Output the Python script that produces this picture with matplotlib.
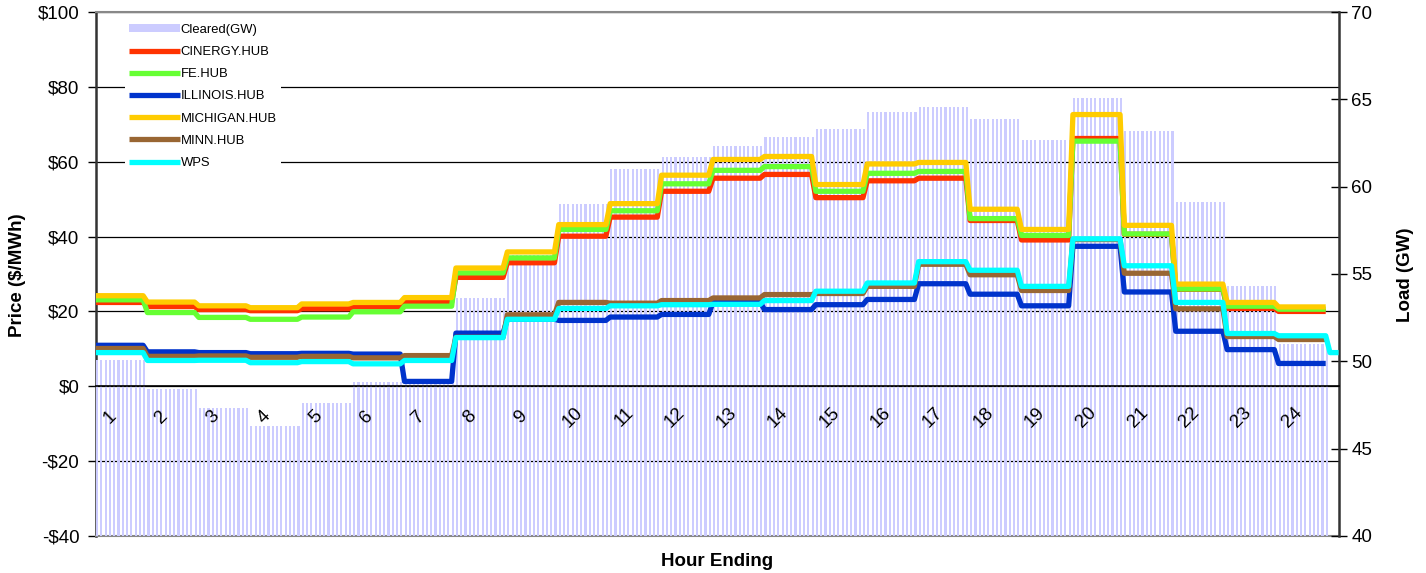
import numpy as np
import matplotlib
matplotlib.use("Agg")
import matplotlib.pyplot as plt
from matplotlib.patches import Patch

plt.rcParams['font.family'] = ['Liberation Sans', 'DejaVu Sans']

hours = list(range(1, 25))
per_hour = 12  # 5-minute intervals

load_gw = [50.1, 48.4, 47.3, 46.3, 47.6, 48.8, 48.85, 53.6, 56.1, 59.0, 61.0, 61.7,
           62.3, 62.85, 63.3, 64.25, 64.55, 63.9, 62.7, 65.05, 63.2, 59.15, 54.3, 51.0]

cinergy = [22.4, 21.3, 20.5, 20.2, 20.7, 21.2, 22.5, 29.1, 33.0, 40.1, 45.2, 52.1,
           55.6, 56.6, 50.4, 54.9, 55.6, 44.3, 39.1, 66.2, 40.6, 25.9, 20.8, 20.0]
fe_hub = [23.1, 19.7, 18.4, 17.9, 18.5, 19.9, 21.4, 30.3, 34.3, 41.9, 46.9, 54.1,
          57.7, 58.7, 52.1, 56.9, 57.4, 44.8, 40.3, 65.5, 40.7, 26.0, 21.4, 20.6]
illinois = [10.95, 9.2, 9.0, 8.7, 8.8, 8.6, 1.3, 14.2, 17.9, 17.6, 18.5, 19.2,
            22.5, 20.5, 21.8, 23.2, 27.4, 24.6, 21.5, 37.4, 25.2, 14.7, 9.8, 6.1]
michigan = [24.2, 22.5, 21.5, 21.0, 22.0, 22.4, 23.7, 31.6, 35.9, 43.2, 48.8, 56.4,
            60.6, 61.4, 53.9, 59.4, 59.8, 47.3, 41.9, 72.6, 43.0, 27.3, 22.4, 21.2]
minn = [10.1, 8.0, 8.1, 7.75, 8.0, 7.6, 8.2, 13.1, 19.1, 22.4, 22.2, 22.9,
        23.6, 24.5, 24.8, 26.7, 32.6, 29.8, 25.6, 39.2, 30.2, 20.7, 13.3, 12.5]
wps = [9.0, 6.9, 6.95, 6.3, 6.6, 6.0, 6.9, 13.0, 17.9, 20.8, 21.5, 21.8,
       21.9, 22.9, 25.4, 27.6, 33.3, 31.0, 26.7, 39.4, 32.2, 22.4, 14.1, 13.5]
wps_tail = [9.0, 9.0, 9.0]

series = [
    ("CINERGY.HUB", cinergy, "#ff3300"),
    ("FE.HUB", fe_hub, "#66ff33"),
    ("ILLINOIS.HUB", illinois, "#0033cc"),
    ("MICHIGAN.HUB", michigan, "#ffcc00"),
    ("MINN.HUB", minn, "#996633"),
    ("WPS", wps, "#00ffff"),
]

n = len(hours) * per_hour
x = np.arange(n)
tick_fs = 13.5

fig = plt.figure(figsize=(14.26, 5.73), dpi=100)
ax = fig.add_axes([96 / 1426, 37 / 573, 1243 / 1426, 524 / 573])
ax.set_xlim(0, 290.1)
ax.set_ylim(-40, 100)
ax.set_yticks(range(-40, 101, 20))
ax.set_yticklabels([("-$%d" % -v) if v < 0 else ("$%d" % v) for v in range(-40, 101, 20)])
ax.grid(axis='y', color='black', lw=0.9)
ax.set_axisbelow(True)
ax.tick_params(axis='x', bottom=False, labelbottom=False)
ax.tick_params(axis='y', direction='out', length=6, width=1, labelsize=tick_fs, pad=6)
ax.spines['left'].set_linewidth(1.8)
ax.spines['left'].set_color('#333333')
ax.spines['top'].set_linewidth(1.5)
ax.spines['top'].set_color('#888888')
ax.spines['bottom'].set_color('#888888')
ax.spines['bottom'].set_linewidth(1.5)
ax.spines['right'].set_visible(False)

# load bars on the right axis
axb = ax.twinx()
axb.set_ylim(40, 70)
axb.set_yticks(range(40, 71, 5))
axb.bar(x, np.repeat(load_gw, per_hour), width=0.5, align='edge',
        color='#ccccff', linewidth=0)
axb.tick_params(axis='y', direction='inout', length=12, width=1, labelsize=tick_fs, pad=3)
for s in ['left', 'top', 'bottom']:
    axb.spines[s].set_visible(False)
axb.spines['right'].set_linewidth(1.8)
axb.spines['right'].set_color('#333333')

# price lines on top
axl = ax.twinx()
axl.set_ylim(-40, 100)
axl.tick_params(axis='y', right=False, labelright=False)
for s in ['left', 'top', 'right']:
    axl.spines[s].set_visible(False)
axl.spines['bottom'].set_visible(True)
axl.spines['bottom'].set_position(('data', 0))
axl.spines['bottom'].set_linewidth(1.2)
axl.set_xticks(np.arange(0, 291, 1))
axl.tick_params(axis='x', bottom=True, labelbottom=False, direction='out',
                length=4, width=0.8)

handles = [Patch(facecolor='#ccccff', edgecolor='none', label='Cleared(GW)')]
for name, vals, col in series:
    yv = np.repeat(vals, per_hour)
    xv = x
    if name == "WPS":
        yv = np.concatenate([yv, wps_tail])
        xv = np.arange(len(yv))
    ln, = axl.plot(xv, yv, color=col, lw=3.8, solid_capstyle='butt',
                   solid_joinstyle='round', label=name)
    handles.append(ln)

for h in hours:
    axl.text((h - 1) * per_hour + 3.2, -8.3, str(h), rotation=45,
             ha='center', va='center', fontsize=tick_fs)

leg = axl.legend(handles=handles, loc='upper left', bbox_to_anchor=(0.0235, 0.985),
                 fontsize=9.4, frameon=True, facecolor='white', edgecolor='none',
                 framealpha=1, fancybox=False, handlelength=3.9, handleheight=0.6,
                 handletextpad=0.05, labelspacing=0.78, borderpad=0.3,
                 borderaxespad=0)

fig.text(18 / 1426, 1 - 275 / 573, "Price ($/MWh)", rotation=90, ha='center',
         va='center', fontsize=13.5, fontweight='bold')
fig.text(1405 / 1426, 1 - 275 / 573, "Load (GW)", rotation=90, ha='center',
         va='center', fontsize=13.5, fontweight='bold')
fig.text(717 / 1426, 1 - 562 / 573, "Hour Ending", ha='center', va='center',
         fontsize=13.5, fontweight='bold')

fig.savefig("out.png", dpi=100)
